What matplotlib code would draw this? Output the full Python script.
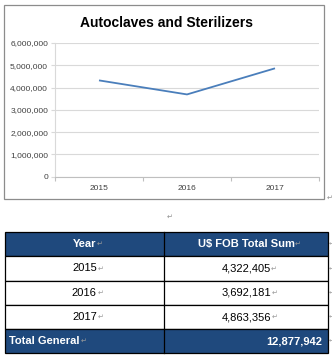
import matplotlib
matplotlib.use("Agg")
import matplotlib.pyplot as plt
from matplotlib.patches import Rectangle
import numpy as np

# ============================================================
# DATA
# ============================================================
years = ["2015", "2016", "2017"]
fob_values = [4322405, 3692181, 4863356]
total_label = "Total General"
total_value = 12877942
col_headers = ["Year", "U$ FOB Total Sum"]
y_ticks = [0, 1000000, 2000000, 3000000, 4000000, 5000000, 6000000]

W, H = 332, 357
HEADER_BLUE = "#1F497D"
LINE_BLUE = "#4A7EBB"
MARK = "\u21b5"
FONT = ["Liberation Sans", "DejaVu Sans"]

plt.rcParams['font.family'] = FONT

fig = plt.figure(figsize=(W / 100, H / 100), dpi=100)

# background axes in pixel coordinates (frame, table)
bg = fig.add_axes([0, 0, 1, 1])
bg.set_xlim(0, W)
bg.set_ylim(H, 0)
bg.axis("off")

# chart frame
bg.add_patch(Rectangle((4, 5), 320, 194, fill=False, edgecolor="#8c8c8c", linewidth=0.9))
bg.text(330, 198, MARK, fontsize=5, color="#909090", ha="center", va="center")
bg.text(166, 23, "Autoclaves and Sterilizers", fontsize=10, fontweight="bold",
        ha="center", va="center", color="black")

# ============================================================
# LINE CHART
# ============================================================
left, right, top, bottom = 55, 319, 43, 176.7
ax = fig.add_axes([left / W, 1 - bottom / H, (right - left) / W, (bottom - top) / H])
x = np.arange(len(years))
ax.plot(x, fob_values, color=LINE_BLUE, linewidth=1.3, solid_capstyle="butt")
ax.set_xlim(-0.5, len(years) - 0.5)
ax.set_ylim(0, 6000000)
ax.set_yticks(y_ticks)
ax.set_yticklabels([f"{v:,}" for v in y_ticks], fontsize=6, color="#404040")
ax.set_xticks(x)
ax.set_xticklabels(years, fontsize=6, color="#404040")
ax.tick_params(axis="x", length=0, pad=6)
ax.set_xticks(np.arange(len(years) + 1) - 0.5, minor=True)
ax.tick_params(axis="x", which="minor", length=3, color="#bfbfbf", width=0.8)
ax.tick_params(axis="y", length=3, color="#d9d9d9", width=0.8, pad=2)
ax.grid(axis="y", color="#d9d9d9", linewidth=0.8)
ax.set_axisbelow(True)
for s in ["top", "right"]:
    ax.spines[s].set_visible(False)
ax.spines["left"].set_color("#d9d9d9")
ax.spines["left"].set_linewidth(0.8)
ax.spines["bottom"].set_color("#bfbfbf")
ax.spines["bottom"].set_linewidth(0.8)
ax.patch.set_alpha(0)

# ============================================================
# TABLE
# ============================================================
bg.text(170, 217, MARK, fontsize=5, color="#909090", ha="center", va="center")

tx0, tx1, tx2 = 4.7, 164, 328
row_edges = [231.7, 256, 280.7, 305, 329, 353]
n_rows = len(row_edges) - 1

for i in range(n_rows):
    y0, y1 = row_edges[i], row_edges[i + 1]
    shaded = i == 0 or i == n_rows - 1
    bg.add_patch(Rectangle((tx0, y0), tx2 - tx0, y1 - y0,
                           facecolor=HEADER_BLUE if shaded else "white",
                           edgecolor="black", linewidth=0.9))
    bg.plot([tx1, tx1], [y0, y1], color="black", linewidth=0.9)
    bg.text(331, (y0 + y1) / 2, MARK, fontsize=4, color="#909090", ha="center", va="center")

def cell_text(x, y, s, ha, color, bold):
    t = bg.text(x, y, s, fontsize=8, ha=ha, va="center", color=color,
                fontweight="bold" if bold else "normal")
    return t

def mark_after(t, y):
    fig.canvas.draw()
    bb = t.get_window_extent()
    xr = bb.x1
    bg.text(xr + 0.5, y + 0.5, MARK, fontsize=5, color="#9a9a9a", ha="left", va="center")

col_c1 = (tx0 + tx1) / 2
col_c2 = (tx1 + tx2) / 2

# header
yc = (row_edges[0] + row_edges[1]) / 2
t = cell_text(col_c1, yc, col_headers[0], "center", "white", True)
mark_after(t, yc)
t = cell_text(col_c2, yc, col_headers[1], "center", "white", True)
mark_after(t, yc)

# body
for i, (yr, val) in enumerate(zip(years, fob_values)):
    yc = (row_edges[i + 1] + row_edges[i + 2]) / 2
    t = cell_text(col_c1, yc, yr, "center", "black", False)
    mark_after(t, yc)
    t = cell_text(col_c2, yc, f"{val:,}", "center", "black", False)
    mark_after(t, yc)

# total
yc = (row_edges[-2] + row_edges[-1]) / 2
t = cell_text(tx0 + 4.5, yc, total_label, "left", "white", True)
mark_after(t, yc)
cell_text(tx2 - 5.5, yc, f"{total_value:,}", "right", "white", True)

fig.savefig("out.png", dpi=100)
